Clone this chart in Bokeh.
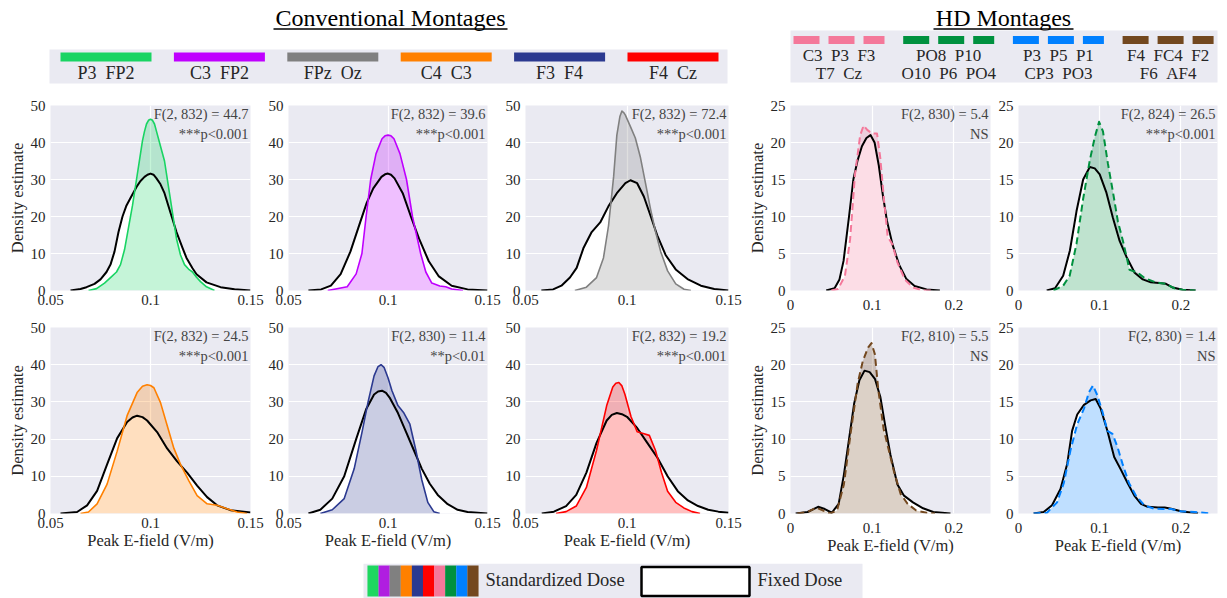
from bokeh.plotting import figure
from bokeh.layouts import column, row
from bokeh.models import Range1d, FixedTicker, PrintfTickFormatter, Label
from bokeh.embed import file_html
from bokeh.resources import INLINE
from bokeh.core.properties import value

FONT = "Liberation Serif"
BG = "#eaeaf2"
TXT = "#262626"
NB = "\u00a0"

# ---------------- data ----------------
# Conventional montages (x: peak E-field V/m, y: density)
p3fp2_std_x = [0.069, 0.073, 0.077, 0.080, 0.083, 0.085, 0.087, 0.089, 0.091, 0.093, 0.095, 0.096, 0.097, 0.098, 0.099, 0.100, 0.101, 0.102, 0.103, 0.105, 0.107, 0.109, 0.111, 0.113, 0.115, 0.117, 0.119, 0.121, 0.123, 0.125, 0.128, 0.132]
p3fp2_std_y = [0, 0.5, 2, 3.5, 5, 7, 11, 17, 23, 30, 37, 40.5, 43, 45, 46, 46.3, 46, 45, 43, 39, 35, 28, 21, 14, 9.6, 7, 5.8, 5, 3.6, 2.4, 1, 0]
p3fp2_fix_x = [0.060, 0.065, 0.068, 0.072, 0.075, 0.078, 0.080, 0.082, 0.084, 0.086, 0.088, 0.090, 0.093, 0.095, 0.097, 0.0985, 0.100, 0.1015, 0.103, 0.105, 0.107, 0.110, 0.113, 0.116, 0.118, 0.121, 0.123, 0.128, 0.135, 0.142, 0.150]
p3fp2_fix_y = [0, 0.4, 0.9, 1.8, 3, 5, 7, 10.5, 15.8, 20, 23, 25, 28, 29.6, 30.7, 31.3, 31.6, 31.3, 30.3, 28.7, 26.3, 21, 15.8, 11.5, 8.8, 6, 4.4, 2.2, 0.9, 0.35, 0]

c3fp2_std_x = [0.0697, 0.0795, 0.084, 0.0869, 0.089, 0.0913, 0.094, 0.097, 0.0985, 0.100, 0.1015, 0.103, 0.106, 0.1093, 0.1123, 0.1164, 0.119, 0.122, 0.126, 0.129, 0.132, 0.1377]
c3fp2_std_y = [0, 1, 4.5, 10, 20, 30, 37, 41, 41.8, 42, 41.8, 41, 37, 30, 20, 10, 5, 2, 1.2, 1, 0.4, 0]
c3fp2_fix_x = [0.060, 0.0664, 0.0713, 0.0762, 0.0811, 0.086, 0.0893, 0.0926, 0.0967, 0.0985, 0.100, 0.1015, 0.1033, 0.1074, 0.1115, 0.1156, 0.1205, 0.1254, 0.132, 0.140, 0.150]
c3fp2_fix_y = [0, 0.3, 1.3, 4.4, 10.5, 18.4, 23.7, 27.6, 30.7, 31.4, 31.6, 31.3, 30.3, 26.3, 20, 14, 7.9, 3.9, 1.3, 0.3, 0]

fpzoz_std_x = [0.0743, 0.080, 0.085, 0.0884, 0.0909, 0.0934, 0.095, 0.0965, 0.0975, 0.0985, 0.0992, 0.1017, 0.1041, 0.1066, 0.1091, 0.1116, 0.1141, 0.1166, 0.120, 0.124, 0.1281, 0.1315]
fpzoz_std_y = [0, 0.9, 3.5, 8.8, 17.5, 30.7, 42, 47, 48.5, 48, 47.4, 44.3, 41.2, 36, 29, 22, 15.8, 10.5, 5.3, 1.8, 0.35, 0]
fpzoz_fix_x = [0.0578, 0.0636, 0.0677, 0.0719, 0.0752, 0.0785, 0.0826, 0.0868, 0.0909, 0.095, 0.0992, 0.1017, 0.105, 0.1083, 0.1116, 0.1149, 0.119, 0.124, 0.1298, 0.1364, 0.143, 0.150]
fpzoz_fix_y = [0, 0.3, 1.3, 3.5, 6.1, 11.4, 15.8, 18.4, 22.8, 26.3, 29, 29.8, 29, 25.4, 20.2, 14.9, 9.6, 5.7, 3.1, 1.3, 0.4, 0]

c4c3_std_x = [0.065, 0.069, 0.0733, 0.0783, 0.0833, 0.0883, 0.0933, 0.096, 0.0983, 0.100, 0.1017, 0.105, 0.1083, 0.1117, 0.115, 0.1192, 0.1233, 0.1283, 0.1333, 0.1383, 0.1433, 0.1483]
c4c3_std_y = [0, 0.4, 2.6, 7.9, 16.7, 26.3, 32.5, 34.2, 34.6, 34.4, 33.8, 29.8, 23.7, 17.5, 13.2, 8.8, 4.8, 2.6, 2.2, 1.3, 0.4, 0]
c4c3_fix_x = [0.055, 0.0633, 0.0683, 0.0733, 0.0783, 0.0833, 0.0883, 0.091, 0.0933, 0.096, 0.0983, 0.1033, 0.1083, 0.1133, 0.1183, 0.1233, 0.1283, 0.1333, 0.140, 0.150]
c4c3_fix_y = [0, 0.4, 2.2, 6.1, 13.2, 20.2, 24.6, 25.8, 26.3, 25.9, 25, 21.9, 17.5, 14, 11, 7.5, 4.4, 2.2, 0.9, 0.3]

f3f4_std_x = [0.066, 0.072, 0.078, 0.083, 0.087, 0.090, 0.093, 0.095, 0.0965, 0.098, 0.100, 0.102, 0.105, 0.108, 0.111, 0.114, 0.117, 0.120, 0.123, 0.126]
f3f4_std_y = [0, 1, 4, 12, 22, 30, 37, 39.5, 40, 39.3, 36.5, 33, 29, 27, 24, 17, 9, 3, 0.5, 0]
f3f4_fix_x = [0.060, 0.066, 0.072, 0.078, 0.084, 0.089, 0.093, 0.095, 0.097, 0.099, 0.101, 0.105, 0.109, 0.113, 0.117, 0.121, 0.125, 0.130, 0.135, 0.140, 0.150]
f3f4_fix_y = [0, 1, 4, 10, 20, 28, 32, 32.8, 33, 32.4, 31, 27, 22, 17, 12, 8, 5, 2.5, 1, 0.4, 0]

f4cz_std_x = [0.065, 0.070, 0.075, 0.080, 0.085, 0.090, 0.093, 0.0945, 0.096, 0.0975, 0.099, 0.102, 0.105, 0.108, 0.111, 0.114, 0.117, 0.120, 0.124, 0.128, 0.132, 0.136]
f4cz_std_y = [0, 0.5, 2, 7, 17, 29, 34, 35, 35.2, 34.3, 32, 26, 22, 21.5, 21, 17, 11, 6, 3, 1.5, 0.5, 0]
f4cz_fix_x = [0.058, 0.064, 0.070, 0.075, 0.080, 0.085, 0.090, 0.0925, 0.095, 0.0975, 0.100, 0.105, 0.110, 0.115, 0.120, 0.125, 0.130, 0.135, 0.140, 0.145, 0.150]
f4cz_fix_y = [0, 0.5, 2, 5, 11, 19, 25, 26.5, 27, 26.7, 26, 23, 19, 15, 10, 6, 3.5, 2, 1, 0.5, 0.2]

# HD montages
hd_pink_std_x = [0.050, 0.0583, 0.0667, 0.073, 0.079, 0.0854, 0.0896, 0.094, 0.100, 0.106, 0.110, 0.1146, 0.119, 0.125, 0.131, 0.140, 0.150, 0.1625, 0.175]
hd_pink_std_y = [0, 0.2, 2, 6.9, 15.7, 21, 22.3, 21.7, 21.2, 21.2, 17.9, 12.2, 7.3, 6.2, 3.8, 1.5, 0.4, 0, 0]
hd_pink_fix_x = [0.0437, 0.054, 0.060, 0.065, 0.0717, 0.077, 0.082, 0.0875, 0.093, 0.098, 0.103, 0.108, 0.113, 0.118, 0.125, 0.133, 0.1417, 0.152, 0.1667, 0.183]
hd_pink_fix_y = [0, 0.3, 1.5, 4, 10, 15, 17.5, 19.5, 20.6, 21, 20, 17, 13, 9.5, 6.2, 3.5, 1.6, 0.6, 0.15, 0]

hd_green_std_x = [0.043, 0.055, 0.063, 0.0714, 0.0796, 0.0878, 0.0939, 0.0992, 0.104, 0.110, 0.1163, 0.1224, 0.1286, 0.1367, 0.147, 0.155, 0.169, 0.1816, 0.192, 0.202, 0.218]
hd_green_std_y = [0, 0.65, 2, 6.3, 12.4, 17.6, 20.7, 22.8, 21.5, 17.2, 13.3, 9.3, 6.7, 2.8, 2.4, 1.7, 1.1, 0.9, 0.3, 0.1, 0]
hd_green_fix_x = [0.0347, 0.045, 0.055, 0.0633, 0.0714, 0.0796, 0.0878, 0.0939, 0.100, 0.108, 0.1163, 0.1245, 0.1327, 0.143, 0.153, 0.163, 0.173, 0.1816, 0.190, 0.202, 0.218]
hd_green_fix_y = [0, 0.3, 2, 5.4, 10.7, 15, 16.7, 16.5, 15.7, 13.3, 9.8, 6.7, 4.6, 2.4, 1.5, 1.1, 1.0, 0.9, 0.4, 0.1, 0]

hd_brown_std_x = [0.0084, 0.021, 0.0316, 0.040, 0.0485, 0.057, 0.0654, 0.0738, 0.0823, 0.0886, 0.095, 0.0992, 0.1034, 0.1076, 0.114, 0.120, 0.1266, 0.135, 0.1435, 0.154, 0.1667, 0.177]
hd_brown_std_y = [0, 0.2, 0.8, 0.4, 0, 0.4, 3.9, 10.9, 17.5, 20.5, 22.3, 22.9, 21.4, 16.6, 11.4, 8.7, 5.7, 2.6, 1.3, 0.4, 0.1, 0]
hd_brown_fix_x = [0.0063, 0.021, 0.0338, 0.042, 0.0506, 0.059, 0.0654, 0.0717, 0.078, 0.0844, 0.0907, 0.097, 0.1034, 0.110, 0.116, 0.1224, 0.131, 0.139, 0.150, 0.1624, 0.175, 0.1857, 0.196]
hd_brown_fix_y = [0, 0.2, 0.9, 0.6, 0.1, 1.3, 5.2, 10, 14.8, 17.9, 19.2, 19, 18.1, 15.7, 11.8, 7.9, 3.9, 2.4, 1.5, 0.7, 0.2, 0.1, 0]

hd_blue_std_x = [0.0186, 0.035, 0.0475, 0.0558, 0.064, 0.0723, 0.0806, 0.0868, 0.0917, 0.097, 0.1033, 0.1095, 0.1157, 0.122, 0.128, 0.136, 0.1446, 0.155, 0.167, 0.178, 0.188, 0.200, 0.217, 0.2376]
hd_blue_std_y = [0, 0.1, 1.5, 4.1, 8.5, 12, 14.1, 16.3, 17.2, 15.9, 13.7, 11.1, 10.7, 8.9, 6.7, 4.1, 2.4, 1.1, 0.65, 0.6, 0.6, 0.3, 0.2, 0]
hd_blue_fix_x = [0.0186, 0.031, 0.0413, 0.0517, 0.060, 0.066, 0.0723, 0.0806, 0.0888, 0.095, 0.1012, 0.1095, 0.1178, 0.126, 0.1343, 0.1426, 0.1508, 0.159, 0.1715, 0.180, 0.188, 0.200, 0.221]
hd_blue_fix_y = [0, 0.2, 1.1, 3.3, 6.7, 11.1, 13.3, 14.6, 15.2, 15.4, 14.1, 11.1, 7.6, 5.9, 4.1, 2.4, 1.3, 0.9, 0.8, 0.8, 0.65, 0.3, 0]

# colours & labels
conv_colors = ["#19d463", "#bf00ff", "#808080", "#ff8000", "#2b3990", "#ff0000"]
conv_labels = ["P3  FP2", "C3  FP2", "FPz  Oz", "C4  C3", "F3  F4", "F4  Cz"]
hd_colors = ["#f4789a", "#00913f", "#0080ff", "#73481f"]
hd_labels_1 = ["C3  P3  F3", "PO8  P10", "P3  P5  P1", "F4  FC4  F2"]
hd_labels_2 = ["T7  Cz", "O10  P6  PO4", "CP3  PO3", "F6  AF4"]
swatch_colors = ["#1ed760", "#b01ee0", "#808080", "#ff8000", "#2b3990", "#ff0000", "#f4789a", "#00913f", "#0080ff", "#73481f"]

conv_stats = ["F(2, 832) = 44.7\n***p<0.001", "F(2, 832) = 39.6\n***p<0.001", "F(2, 832) = 72.4\n***p<0.001",
              "F(2, 832) = 24.5\n***p<0.001", "F(2, 830) = 11.4\n**p<0.01", "F(2, 832) = 19.2\n***p<0.001"]
hd_stats = ["F(2, 830) = 5.4\nNS", "F(2, 824) = 26.5\n***p<0.001", "F(2, 810) = 5.5\nNS", "F(2, 830) = 1.4\nNS"]

conv_xticks = [0.05, 0.1, 0.15]
conv_yticks = [0, 10, 20, 30, 40, 50]
hd_xticks = [0, 0.1, 0.2]
hd_yticks = [0, 5, 10, 15, 20, 25]


def nb(s):
    return s.replace(" ", NB)


def panel(sx, sy, fx, fy, color, dashed, stats, hd, width, bl, br, height, bt, bb, ylab, xlab):
    if hd:
        xr, yr, xt, yt = Range1d(0, 0.245), Range1d(0, 25), hd_xticks, hd_yticks
    else:
        xr, yr, xt, yt = Range1d(0.05, 0.15), Range1d(0, 50), conv_xticks, conv_yticks
    p = figure(width=width, height=height, x_range=xr, y_range=yr, output_backend="svg",
               toolbar_location=None, background_fill_color=BG, border_fill_color="white",
               outline_line_color=None)
    p.min_border_left, p.min_border_right, p.min_border_top, p.min_border_bottom = bl, br, bt, bb
    for ax, ticks in ((p.xaxis[0], xt), (p.yaxis[0], yt)):
        ax.ticker = FixedTicker(ticks=ticks)
        ax.formatter = PrintfTickFormatter(format="%g")
        ax.axis_line_color = None
        ax.major_tick_line_color = None
        ax.minor_tick_line_color = None
        ax.major_tick_out = 0
        ax.major_tick_in = 0
        ax.minor_tick_out = 0
        ax.minor_tick_in = 0
        ax.major_label_text_font = FONT
        ax.major_label_text_font_size = "15px"
        ax.major_label_text_color = TXT
        ax.axis_label_text_font = FONT
        ax.axis_label_text_font_size = "16.5px"
        ax.axis_label_text_font_style = "normal"
        ax.axis_label_text_color = TXT
    p.xaxis.major_label_standoff = 9 if hd else 4
    p.yaxis.major_label_standoff = 5
    p.xaxis.axis_label_standoff = 0
    p.yaxis.axis_label_standoff = 1
    if ylab:
        p.yaxis.axis_label = "Density estimate"
    if xlab:
        p.xaxis.axis_label = "Peak E-field (V/m)"
    p.xgrid.ticker = FixedTicker(ticks=xt)
    p.ygrid.ticker = FixedTicker(ticks=yt)
    p.grid.grid_line_color = "white"
    p.grid.grid_line_width = 1.2

    p.varea(x=fx, y1=0, y2=fy, fill_color="white", fill_alpha=1.0)
    p.varea(x=sx, y1=0, y2=sy, fill_color=color, fill_alpha=0.25)
    p.line(fx, fy, line_color="black", line_width=2, line_join="round")
    if dashed:
        p.line(sx, sy, line_color=color, line_width=2, line_dash="7 4", line_join="round")
    else:
        p.line(sx, sy, line_color=color, line_width=1.6, line_join="round")

    p.add_layout(Label(x=xr.end, y=yr.end, text=stats, text_align="right", text_baseline="top",
                       x_offset=-2, text_font=FONT, text_font_size="14.5px", text_color="#444444",
                       text_line_height=1.25))
    return p


# -------- top title / legend strip --------
top = figure(width=1227, height=96, x_range=Range1d(0, 1227), y_range=Range1d(96, 0),
             output_backend="svg", toolbar_location=None, outline_line_color=None,
             background_fill_color="white", border_fill_color="white")
top.min_border = 0
top.axis.visible = False
top.grid.visible = False

top.text(x=[390, 1003], y=[17, 17], text=["Conventional Montages", "HD Montages"],
         text_font=value(FONT), text_font_size="24px", text_align="center",
         text_baseline="middle", text_color="black")
top.segment(x0=[273, 933], y0=[28.5, 28.5], x1=[507, 1073], y1=[28.5, 28.5], line_color="black", line_width=1.5)

top.quad(left=[49], right=[727], top=[49], bottom=[83], fill_color=BG, line_color=None)
conv_cx = [105.5 + i * 113.4 for i in range(len(conv_labels))]
top.rect(x=conv_cx, y=[56.5] * len(conv_cx), width=91, height=9, fill_color=conv_colors, line_color=None)
top.text(x=conv_cx, y=[72.5] * len(conv_cx), text=[nb(s) for s in conv_labels], text_font=value(FONT),
         text_font_size="18px", text_align="center", text_baseline="middle", text_color=TXT)

top.quad(left=[790], right=[1217], top=[30], bottom=[82], fill_color=BG, line_color=None)
bar_x, bar_w, bar_c = [], [], []
for g, col in enumerate(hd_colors):
    g0 = 793 + g * 109.7
    for k, w in enumerate([26, 26, 21]):
        bar_x.append(g0 + k * 35 + w / 2)
        bar_w.append(w)
        bar_c.append(col)
top.rect(x=bar_x, y=[39.5] * len(bar_x), width=bar_w, height=8, fill_color=bar_c, line_color=None)
hd_cx = [793 + g * 109.7 + 45.5 for g in range(len(hd_colors))]
top.text(x=hd_cx, y=[55] * 4, text=[nb(s) for s in hd_labels_1], text_font=value(FONT), text_font_size="17px",
         text_align="center", text_baseline="middle", text_color=TXT)
top.text(x=hd_cx, y=[72.5] * 4, text=[nb(s) for s in hd_labels_2], text_font=value(FONT), text_font_size="17px",
         text_align="center", text_baseline="middle", text_color=TXT)

# -------- panels --------
r1 = [
    panel(p3fp2_std_x, p3fp2_std_y, p3fp2_fix_x, p3fp2_fix_y, conv_colors[0], False, conv_stats[0], False, 265, 50, 15, 224, 4, 30, True, False),
    panel(c3fp2_std_x, c3fp2_std_y, c3fp2_fix_x, c3fp2_fix_y, conv_colors[1], False, conv_stats[1], False, 237, 20, 15, 224, 4, 30, False, False),
    panel(fpzoz_std_x, fpzoz_std_y, fpzoz_fix_x, fpzoz_fix_y, conv_colors[2], False, conv_stats[2], False, 241, 21, 15, 224, 4, 30, False, False),
    panel(hd_pink_std_x, hd_pink_std_y, hd_pink_fix_x, hd_pink_fix_y, hd_colors[0], True, hd_stats[0], True, 252, 47, 5, 224, 6, 28, True, False),
    panel(hd_green_std_x, hd_green_std_y, hd_green_fix_x, hd_green_fix_y, hd_colors[1], True, hd_stats[1], True, 232, 20, 10, 224, 9, 26, False, False),
]
r2 = [
    panel(c4c3_std_x, c4c3_std_y, c4c3_fix_x, c4c3_fix_y, conv_colors[3], False, conv_stats[3], False, 265, 50, 15, 243, 3, 50, True, True),
    panel(f3f4_std_x, f3f4_std_y, f3f4_fix_x, f3f4_fix_y, conv_colors[4], False, conv_stats[4], False, 237, 20, 15, 243, 3, 50, False, True),
    panel(f4cz_std_x, f4cz_std_y, f4cz_fix_x, f4cz_fix_y, conv_colors[5], False, conv_stats[5], False, 241, 21, 15, 243, 3, 50, False, True),
    panel(hd_brown_std_x, hd_brown_std_y, hd_brown_fix_x, hd_brown_fix_y, hd_colors[3], True, hd_stats[2], True, 252, 47, 5, 243, 6, 46, True, True),
    panel(hd_blue_std_x, hd_blue_std_y, hd_blue_fix_x, hd_blue_fix_y, hd_colors[2], True, hd_stats[3], True, 232, 20, 10, 243, 7, 46, False, True),
]

# -------- bottom legend --------
bot = figure(width=1227, height=35, x_range=Range1d(0, 1227), y_range=Range1d(35, 0),
             output_backend="svg", toolbar_location=None, outline_line_color=None,
             background_fill_color="white", border_fill_color="white")
bot.min_border = 0
bot.axis.visible = False
bot.grid.visible = False
bot.quad(left=[363], right=[862], top=[0], bottom=[35], fill_color=BG, line_color=None)
sw_x = [367 + 11.1 * i + 5.55 for i in range(len(swatch_colors))]
bot.rect(x=sw_x, y=[17.5] * len(sw_x), width=11.2, height=31, fill_color=swatch_colors, line_color=None)
bot.text(x=[485], y=[16], text=["Standardized Dose"], text_font=value(FONT), text_font_size="18.5px",
         text_align="left", text_baseline="middle", text_color=TXT)
bot.rect(x=[695], y=[18], width=108, height=29, fill_color="white", line_color="black", line_width=2.5)
bot.text(x=[757], y=[16], text=["Fixed Dose"], text_font=value(FONT), text_font_size="18.5px",
         text_align="left", text_baseline="middle", text_color=TXT)

layout = column(top, row(*r1), row(*r2), bot)
open("out.html", "w").write(file_html(layout, INLINE))
